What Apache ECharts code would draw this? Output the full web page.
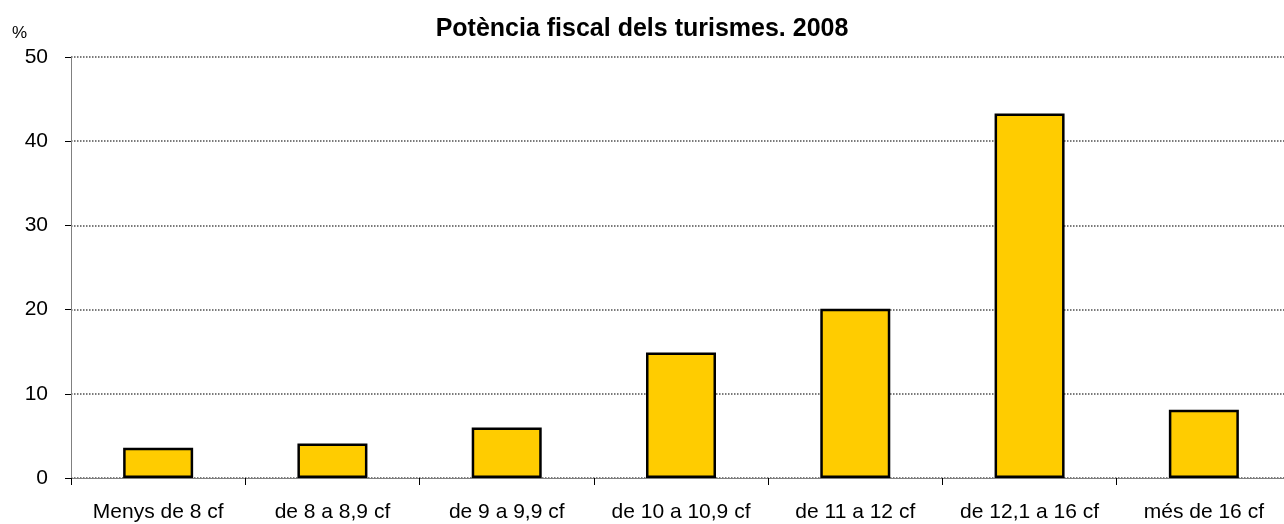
<!DOCTYPE html>
<html><head><meta charset="utf-8">
<script src="https://cdn.jsdelivr.net/npm/echarts@6/dist/echarts.min.js"></script>
<style>html,body{margin:0;padding:0;background:#fff}#c{width:1284px;height:524px}</style>
</head><body><div id="c"></div>
<script>
const categories = ["Menys de 8 cf","de 8 a 8,9 cf","de 9 a 9,9 cf","de 10 a 10,9 cf","de 11 a 12 cf","de 12,1 a 16 cf","més de 16 cf"];
const values = [3.6, 4.1, 6.0, 14.9, 20.1, 43.3, 8.1];
const titleText = "Potència fiscal dels turismes. 2008";
const unitLabel = "%";
const font = "'Liberation Sans', Arial, sans-serif";
const chart = echarts.init(document.getElementById('c'));
chart.setOption({
  animation:false,
  title:{text:titleText,left:637,top:12,textAlign:'center',textStyle:{fontFamily:font,fontSize:25,fontWeight:'bold',color:'#000'}},
  grid:{left:71,width:1220,top:57,bottom:46,containLabel:false,outerBoundsMode:'none'},
  xAxis:{type:'category',data:categories,
    axisLine:{lineStyle:{color:'#808080',width:1}},
    axisTick:{show:true,alignWithLabel:false,length:7,lineStyle:{color:'#000'}},
    axisLabel:{fontFamily:font,fontSize:21,color:'#000',margin:24,interval:0}},
  yAxis:{type:'value',min:0,max:50,interval:10,
    axisLine:{show:true,lineStyle:{color:'#808080'}},
    axisTick:{show:true,length:6,lineStyle:{color:'#000'}},
    axisLabel:{fontFamily:font,fontSize:21,color:'#000',margin:23},
    splitLine:{show:true,lineStyle:{color:'#7a7a7a',type:[1.5,1.5],width:2}}},
  graphic:[{type:'text',left:12,top:25,style:{text:unitLabel,fontFamily:font,fontSize:17,fill:'#000'}}],
  series:[{type:'bar',data:values,barWidth:70,
    itemStyle:{color:'#FFCC00',borderColor:'#000',borderWidth:2.5}}]
});
</script></body></html>
